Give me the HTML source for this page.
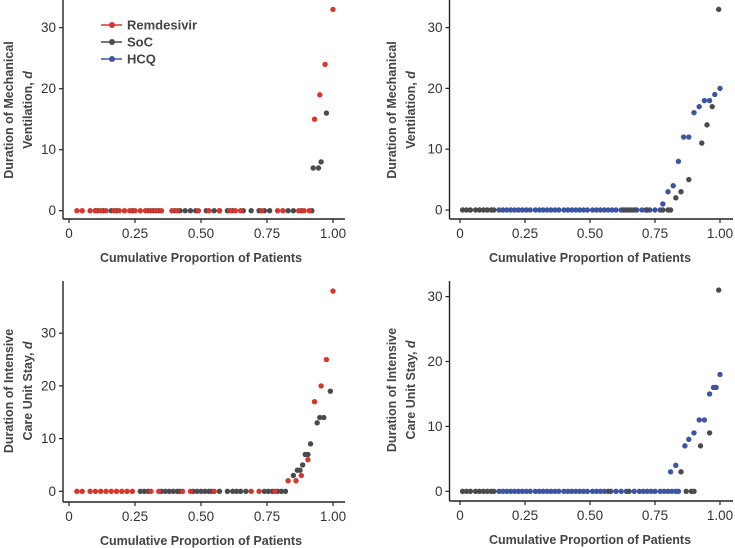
<!DOCTYPE html>
<html><head><meta charset="utf-8"><style>
html,body{margin:0;padding:0;background:#fff}
svg{display:block;font-family:"Liberation Sans",sans-serif}
</style></head><body>
<svg id="chart" width="735" height="548" viewBox="0 0 735 548"></svg>
<script>
// Panel A: mechanical ventilation, Remdesivir vs SoC
const aRemX=[0.03,0.05,0.08,0.10,0.12,0.14,0.17,0.19,0.21,0.23,0.25,0.27,0.29,0.31,0.33,0.35,0.39,0.41,0.49,0.53,0.57,0.61,0.63,0.65,0.73,0.79,0.81,0.87,0.89,0.91,0.93,0.95,0.97,1.00];
const aRemY=[0,0,0,0,0,0,0,0,0,0,0,0,0,0,0,0,0,0,0,0,0,0,0,0,0,0,0,0,0,0,15,19,24,33];
const aSocX=[0.10,0.11,0.13,0.16,0.18,0.24,0.30,0.32,0.34,0.40,0.42,0.44,0.46,0.48,0.52,0.55,0.57,0.60,0.62,0.66,0.69,0.72,0.74,0.76,0.83,0.85,0.88,0.92,0.925,0.945,0.955,0.975];
const aSocY=[0,0,0,0,0,0,0,0,0,0,0,0,0,0,0,0,0,0,0,0,0,0,0,0,0,0,0,0,7,7,8,16];
// Panel B: mechanical ventilation, HCQ vs SoC
const bSocX=[0.01,0.025,0.04,0.06,0.075,0.09,0.105,0.12,0.13,0.63,0.65,0.67,0.72,0.78,0.80,0.81,0.83,0.85,0.88,0.93,0.95,0.97,0.995];
const bSocY=[0,0,0,0,0,0,0,0,0,0,0,0,0,0,0,0,2,3,5,11,14,17,33];
const bHcqX=[0.15,0.165,0.18,0.195,0.21,0.225,0.24,0.255,0.27,0.29,0.305,0.32,0.335,0.35,0.365,0.38,0.40,0.415,0.43,0.445,0.46,0.475,0.49,0.51,0.525,0.54,0.555,0.57,0.585,0.60,0.62,0.64,0.66,0.68,0.70,0.715,0.73,0.75,0.77,0.78,0.80,0.82,0.84,0.86,0.88,0.90,0.92,0.94,0.96,0.98,1.00];
const bHcqY=[0,0,0,0,0,0,0,0,0,0,0,0,0,0,0,0,0,0,0,0,0,0,0,0,0,0,0,0,0,0,0,0,0,0,0,0,0,0,0,1,3,4,8,12,12,16,17,18,18,19,20];
// Panel C: ICU stay, Remdesivir vs SoC
const cRemX=[0.03,0.05,0.08,0.10,0.12,0.14,0.16,0.18,0.20,0.22,0.24,0.31,0.34,0.43,0.46,0.55,0.69,0.72,0.78,0.83,0.86,0.88,0.905,0.93,0.955,0.975,1.00];
const cRemY=[0,0,0,0,0,0,0,0,0,0,0,0,0,0,0,0,0,0,0,2,2,3,6,17,20,25,38];
const cSocX=[0.27,0.285,0.30,0.35,0.365,0.38,0.395,0.41,0.42,0.47,0.485,0.50,0.515,0.53,0.54,0.57,0.60,0.62,0.635,0.65,0.67,0.74,0.755,0.77,0.79,0.805,0.82,0.85,0.865,0.875,0.885,0.895,0.905,0.915,0.94,0.95,0.965,0.99];
const cSocY=[0,0,0,0,0,0,0,0,0,0,0,0,0,0,0,0,0,0,0,0,0,0,0,0,0,0,0,3,4,4,5,7,7,9,13,14,14,19];
// Panel D: ICU stay, HCQ vs SoC
const dSocX=[0.01,0.025,0.04,0.06,0.075,0.09,0.105,0.12,0.13,0.57,0.65,0.87,0.89,0.90,0.85,0.925,0.96,0.995];
const dSocY=[0,0,0,0,0,0,0,0,0,0,0,0,0,0,3,7,9,31];
const dHcqX=[0.15,0.165,0.18,0.195,0.21,0.225,0.24,0.255,0.27,0.29,0.305,0.32,0.335,0.35,0.365,0.38,0.40,0.415,0.43,0.445,0.46,0.475,0.49,0.51,0.525,0.54,0.555,0.58,0.60,0.62,0.64,0.67,0.69,0.705,0.72,0.735,0.75,0.77,0.785,0.80,0.815,0.83,0.84,0.81,0.83,0.865,0.88,0.90,0.92,0.94,0.96,0.975,0.985,1.00];
const dHcqY=[0,0,0,0,0,0,0,0,0,0,0,0,0,0,0,0,0,0,0,0,0,0,0,0,0,0,0,0,0,0,0,0,0,0,0,0,0,0,0,0,0,0,0,3,4,7,8,9,11,11,15,16,16,18];
const xTicks=[0,0.25,0.5,0.75,1];
const xTickLabels=["0","0.25","0.50","0.75","1.00"];
const yTicks=[0,10,20,30];
const legendNames=["Remdesivir","SoC","HCQ"];

const RED="#d8352c",GRAY="#4b4b4d",BLUE="#3b55a3";
const svg=document.getElementById('chart');
const NS="http://www.w3.org/2000/svg";
function mk(tag,attrs,parent){const e=document.createElementNS(NS,tag);for(const k in attrs)e.setAttribute(k,attrs[k]);(parent||svg).appendChild(e);return e;}

function panel(p){
  const g=mk('g',{});
  
  
  const xs=v=>p.x0+v*(p.x1-p.x0);
  const ys=v=>p.y0-v*p.ppu;
  const axY=mk('line',{x1:p.ax,y1:p.top,x2:p.ax,y2:p.axB,stroke:"#222","stroke-width":1.4},g);
  
  
  const axX=mk('line',{x1:p.ax,y1:p.axB,x2:p.right,y2:p.axB,stroke:"#222","stroke-width":1.4},g);
  
  
  xTicks.forEach((t,i)=>{
    mk('line',{x1:xs(t),y1:p.axB,x2:xs(t),y2:p.axB+4,stroke:"#222","stroke-width":1.2},g);
    const tx=mk('text',{x:xs(t),y:p.axB+19,"text-anchor":"middle","font-size":13.5,fill:"#333"},g);
    tx.textContent=xTickLabels[i];
    
    
  });
  yTicks.forEach(t=>{
    mk('line',{x1:p.ax-4,y1:ys(t),x2:p.ax,y2:ys(t),stroke:"#222","stroke-width":1.2},g);
    const tx=mk('text',{x:p.ax-7,y:ys(t)+4.5,"text-anchor":"end","font-size":13.5,fill:"#333"},g);
    tx.textContent=t;
    
    
  });
  const xt=mk('text',{x:(p.x0+p.x1)/2,y:p.axB+43,"text-anchor":"middle","font-size":12.5,"font-weight":"bold",fill:"#444"},g);
  xt.textContent="Cumulative Proportion of Patients";
  
  
  const yt=mk('text',{transform:`translate(${p.tx},${p.tcy}) rotate(-90)`,"text-anchor":"middle","font-size":12.5,"font-weight":"bold",fill:"#444"},g);
  
  
  const t1=mk('tspan',{x:0,y:0},yt);t1.textContent=p.l1;
  const t2=mk('tspan',{x:0,y:19},yt);t2.textContent=p.l2;
  const it=mk('tspan',{"font-style":"italic"},t2);it.textContent="d";
  p.series.forEach(s=>{
    s.xs.forEach((v,i)=>{
      const c=mk('circle',{cx:xs(v),cy:ys(s.ys[i]),r:2.7,fill:s.color},g);
      
      
    });
  });
}

panel({name:'panel-ventilation-remdesivir',x0:69,x1:333,ax:63,top:0,axB:219,right:345,y0:210.7,ppu:6.1,tx:13,tcy:110,
  l1:"Duration of Mechanical",l2:"Ventilation, ",
  series:[{key:'soc',xs:aSocX,ys:aSocY,color:GRAY},{key:'remdesivir',xs:aRemX,ys:aRemY,color:RED}]});
panel({name:'panel-ventilation-hcq',x0:460,x1:720,ax:449.5,top:0,axB:219,right:733,y0:210,ppu:6.08,tx:396,tcy:110,
  l1:"Duration of Mechanical",l2:"Ventilation, ",
  series:[{key:'hcq',xs:bHcqX,ys:bHcqY,color:BLUE},{key:'soc',xs:bSocX,ys:bSocY,color:GRAY}]});
panel({name:'panel-icu-remdesivir',x0:69,x1:333,ax:63,top:281,axB:502,right:345,y0:491.3,ppu:5.27,tx:13,tcy:391,
  l1:"Duration of Intensive",l2:"Care Unit Stay, ",
  series:[{key:'soc',xs:cSocX,ys:cSocY,color:GRAY},{key:'remdesivir',xs:cRemX,ys:cRemY,color:RED}]});
panel({name:'panel-icu-hcq',x0:460,x1:720,ax:449.5,top:281,axB:501,right:733,y0:491.3,ppu:6.49,tx:396,tcy:390,
  l1:"Duration of Intensive",l2:"Care Unit Stay, ",
  series:[{key:'hcq',xs:dHcqX,ys:dHcqY,color:BLUE},{key:'soc',xs:dSocX,ys:dSocY,color:GRAY}]});

// legend
const lg=mk('g',{});


[RED,GRAY,BLUE].forEach((col,i)=>{
  const y=25+i*17;
  const e=mk('g',{},lg);
  
  
  mk('line',{x1:101,y1:y,x2:122,y2:y,stroke:col,"stroke-width":1.5},e);
  mk('circle',{cx:112,cy:y,r:3,fill:col},e);
  const t=mk('text',{x:127,y:y+4.5,"font-size":13,"font-weight":"bold",fill:"#444"},e);
  t.textContent=legendNames[i];
});
</script>
</body></html>
